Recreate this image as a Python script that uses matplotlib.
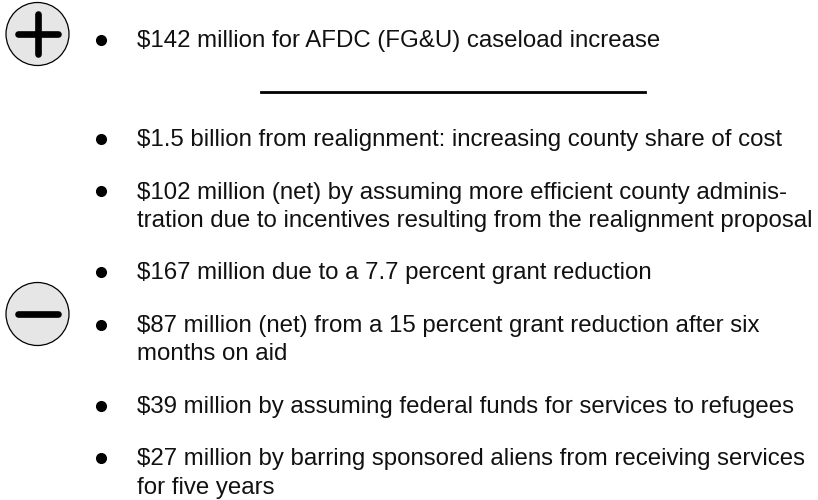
import matplotlib.pyplot as plt
from matplotlib.patches import Circle

# --- content ---
plus_items = [
    ["$142 million for AFDC (FG&U) caseload increase"],
]
minus_items = [
    ["$1.5 billion from realignment: increasing county share of cost"],
    ["$102 million (net) by assuming more efficient county adminis-",
     "tration due to incentives resulting from the realignment proposal"],
    ["$167 million due to a 7.7 percent grant reduction"],
    ["$87 million (net) from a 15 percent grant reduction after six",
     "months on aid"],
    ["$39 million by assuming federal funds for services to refugees"],
    ["$27 million by barring sponsored aliens from receiving services",
     "for five years"],
]

W, H = 818, 500
fig = plt.figure(figsize=(W / 100, H / 100), dpi=100)
ax = fig.add_axes([0, 0, 1, 1])
ax.set_xlim(0, W); ax.set_ylim(H, 0)
ax.axis("off")

FONT = dict(family=["Liberation Sans", "DejaVu Sans"], size=17.3, color="#111111")
TEXT_X, BULLET_X = 137, 100.5
ITEM_GAP, WRAP_GAP = 52.5, 28.5


def draw_items(items, y):
    for lines in items:
        ax.plot(BULLET_X, y - 7.5, "o", color="black", ms=8, mew=0)
        for k, line in enumerate(lines):
            ax.text(TEXT_X, y + k * WRAP_GAP, line, va="baseline", ha="left", **FONT)
        y += (len(lines) - 1) * WRAP_GAP + ITEM_GAP
    return y


def sign_icon(cx, cy, plus):
    ax.add_patch(Circle((cx, cy), 31.5, fc="#e6e6e6", ec="black", lw=0.9))
    kw = dict(color="black", lw=4.8, solid_capstyle="round")
    ax.plot([cx - 19.5, cx + 20.5], [cy, cy], **kw)
    if plus:
        ax.plot([cx, cx], [cy - 20, cy + 19.5], **kw)


# plus section
sign_icon(37.5, 34, True)
draw_items(plus_items, 47)

# separator
ax.plot([261, 645], [92, 92], color="black", lw=2)

# minus section
sign_icon(37.5, 314, False)
draw_items(minus_items, 146)

fig.savefig("out.png", dpi=100)
